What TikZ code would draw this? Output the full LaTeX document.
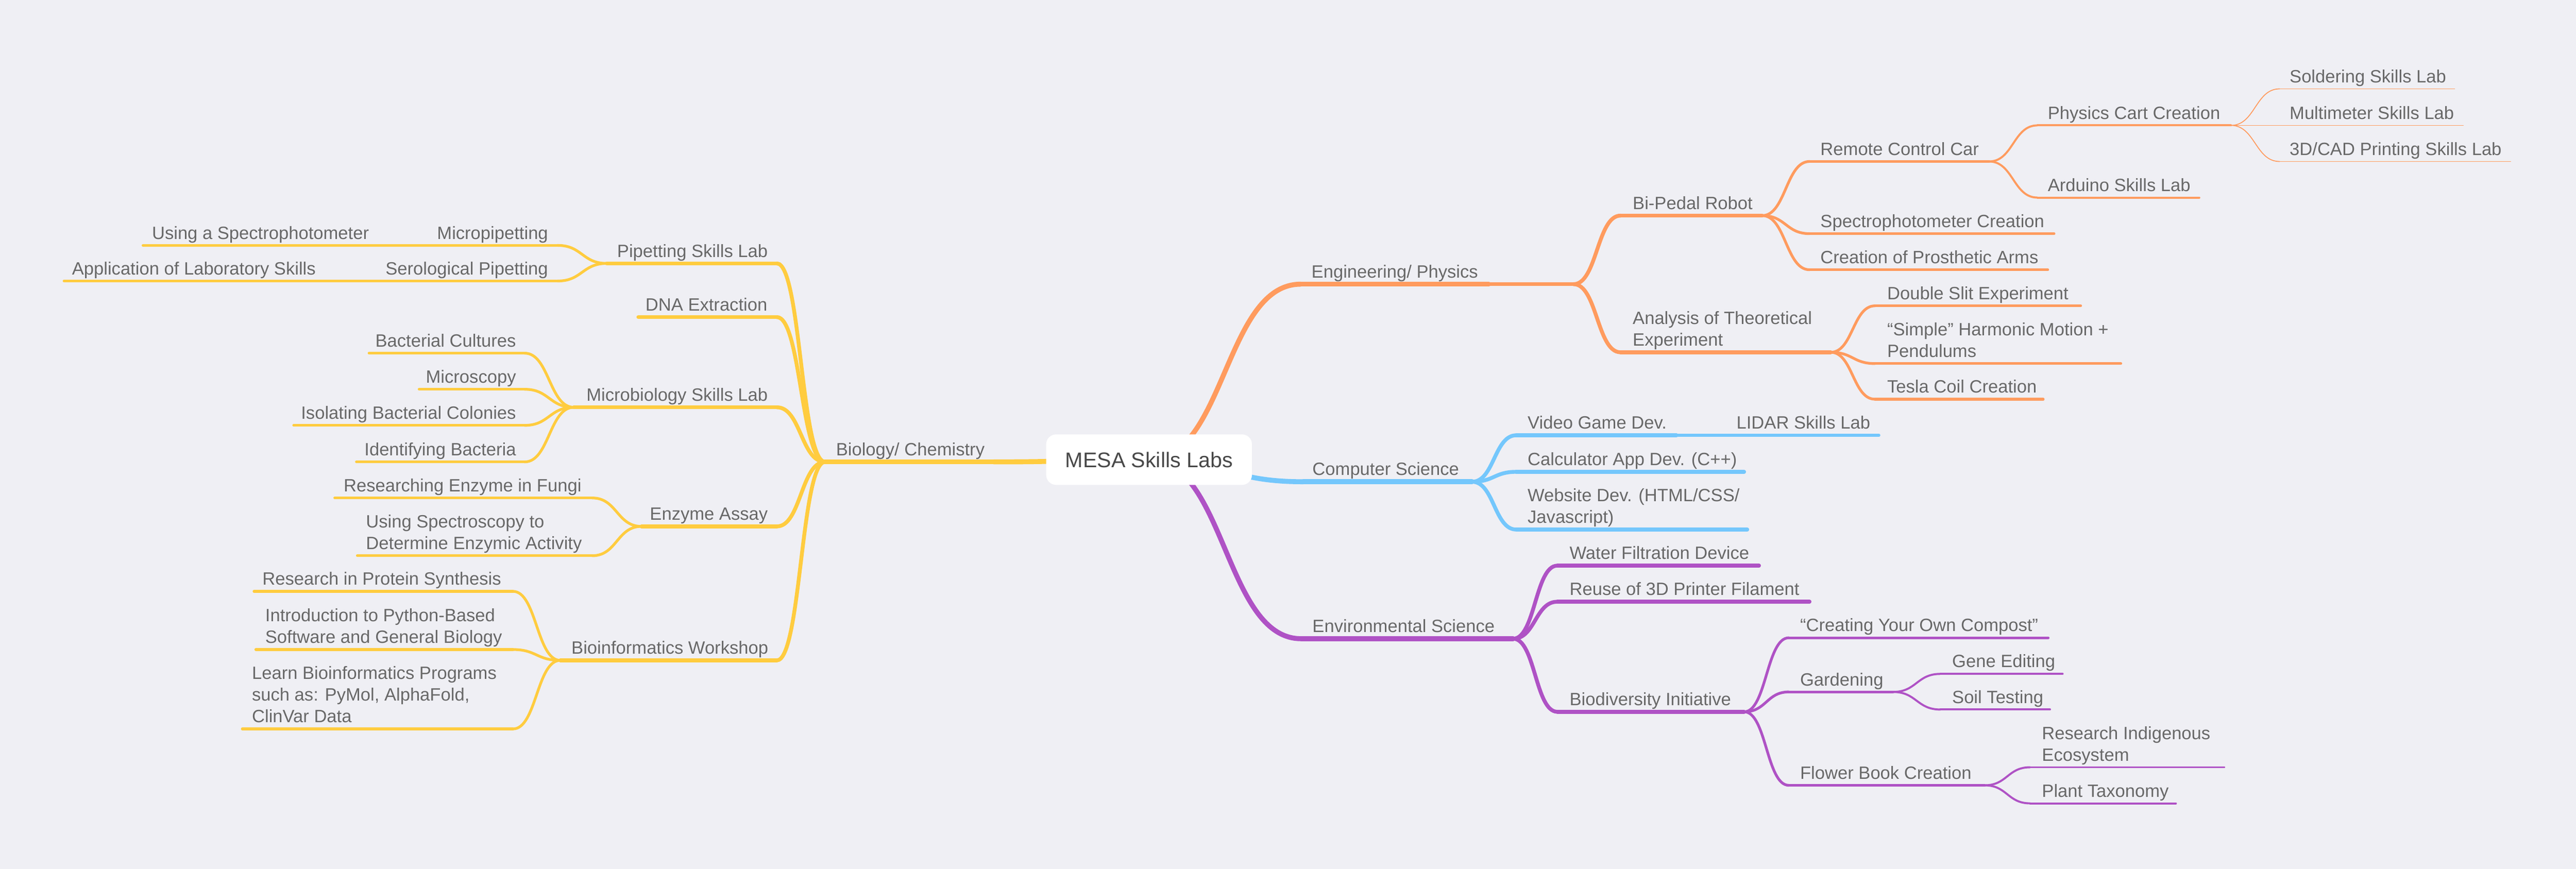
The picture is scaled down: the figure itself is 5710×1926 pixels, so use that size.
\documentclass[tikz,border=0pt]{standalone}
\usepackage{fontspec}
\setmainfont{Liberation Sans}
\usetikzlibrary{calc,backgrounds}
\definecolor{bg}{RGB}{239,239,244}
\definecolor{cy}{RGB}{255,204,63}
\definecolor{co}{RGB}{255,155,94}
\definecolor{cb}{RGB}{116,199,252}
\definecolor{cp}{RGB}{175,82,197}
\definecolor{txt}{RGB}{104,104,104}
\definecolor{roottxt}{RGB}{72,72,72}
% name, style, xstart, xend, y, anchor, anchor-x, text
\newcommand{\mmnode}[8]{%
  \coordinate (#1s) at (#3,#5);
  \coordinate (#1e) at (#4,#5);
  \begin{pgfonlayer}{background}\draw[#2,line cap=round] (#1s) -- (#1e);\end{pgfonlayer}
  \node[lbl,anchor=#6] (#1) at (#7,#5-14) {\begin{tabular}[b]{@{}l@{}}#8\end{tabular}};}
\newcommand{\mmconn}[3]{%
  \begin{pgfonlayer}{background}\draw[#1,line cap=round] (#2) .. controls ($(#2)!0.5!(#3 |- #2)$) and ($(#3)!0.5!(#2 |- #3)$) .. (#3);\end{pgfonlayer}}
\begin{document}
\begin{tikzpicture}[x=1pt,y=-1pt,
  lA/.style={line width=11pt},
  lB/.style={line width=8.5pt},
  lC/.style={line width=6pt},
  lD/.style={line width=4.5pt},
  lE/.style={line width=2pt},
  lbl/.style={inner sep=0pt,text=txt,font=\fontsize{39.5}{48}\selectfont},
  rootbox/.style={fill=white,rounded corners=22pt,minimum width=456pt,minimum height=112pt,inner sep=0pt,text=roottxt,font=\fontsize{47}{56}\selectfont}]
\useasboundingbox (0,0) rectangle (5710,1926);
\begin{pgfonlayer}{background}\fill[bg] (0,0) rectangle (5710,1926);\end{pgfonlayer}

\node[rootbox] (root) at (2547,1019) {MESA Skills Labs};

% ---------- left: Biology / Chemistry ----------
\mmnode{bio}{cy,lA}{1829}{2203}{1024}{base west}{1853}{Biology/ Chemistry}
\mmnode{pip}{cy,lB}{1345}{1722}{584}{base east}{1702}{Pipetting Skills Lab}
\mmnode{dna}{cy,lB}{1415}{1722}{703}{base east}{1701}{DNA Extraction}
\mmnode{mic}{cy,lB}{1272}{1722}{903}{base east}{1702}{Microbiology Skills Lab}
\mmnode{enz}{cy,lB}{1422}{1722}{1167}{base east}{1702}{Enzyme Assay}
\mmnode{bif}{cy,lB}{1242}{1722}{1464}{base east}{1703}{Bioinformatics Workshop}

\mmnode{mpp}{cy,lC}{951}{1236}{544}{base east}{1215}{Micropipetting}
\mmnode{ser}{cy,lC}{836}{1236}{623}{base east}{1215}{Serological Pipetting}
\mmnode{bac}{cy,lC}{818}{1163}{783}{base east}{1144}{Bacterial Cultures}
\mmnode{msc}{cy,lC}{929}{1163}{863}{base east}{1144}{Microscopy}
\mmnode{iso}{cy,lC}{651}{1163}{943}{base east}{1144}{Isolating Bacterial Colonies}
\mmnode{idb}{cy,lC}{790}{1163}{1024}{base east}{1144}{Identifying Bacteria}
\mmnode{ref}{cy,lC}{742}{1313}{1104}{base east}{1289}{Researching Enzyme in Fungi}
\mmnode{usp}{cy,lC}{792}{1313}{1232}{base east}{1290}{Using Spectroscopy to\\Determine Enzymic Activity}
\mmnode{rps}{cy,lC}{563}{1137}{1311}{base east}{1111}{Research in Protein Synthesis}
\mmnode{ipy}{cy,lC}{567}{1137}{1440}{base east}{1113}{Introduction to Python-Based\\Software and General Biology}
\mmnode{lbp}{cy,lC}{537}{1137}{1616}{base east}{1101}{Learn Bioinformatics Programs\\such as: PyMol, AlphaFold,\\ClinVar Data}

\mmnode{uas}{cy,lC}{317}{951}{544}{base east}{818}{Using a Spectrophotometer}
\mmnode{als}{cy,lC}{142}{836}{623}{base east}{700}{Application of Laboratory Skills}

% ---------- right: Engineering / Physics ----------
\mmnode{eng}{co,lA}{2883}{3300}{630}{base west}{2907}{Engineering/ Physics}
\coordinate (engX) at (3488,630);
\begin{pgfonlayer}{background}\draw[co,lB,line cap=round] (enge) -- (engX);\end{pgfonlayer}
\mmnode{bpr}{co,lB}{3592}{3906}{478}{base west}{3619}{Bi-Pedal Robot}
\mmnode{ate}{co,lB}{3592}{4058}{781}{base west}{3619}{Analysis of Theoretical\\Experiment}
\mmnode{rcc}{co,lC}{4011}{4409}{358}{base west}{4035}{Remote Control Car}
\mmnode{spc}{co,lC}{4011}{4553}{518}{base west}{4035}{Spectrophotometer Creation}
\mmnode{cpa}{co,lC}{4011}{4539}{598}{base west}{4035}{Creation of Prosthetic Arms}
\mmnode{dse}{co,lC}{4156}{4612}{678}{base west}{4183}{Double Slit Experiment}
\mmnode{shm}{co,lC}{4156}{4701}{806}{base west}{4183}{“Simple” Harmonic Motion +\\Pendulums}
\mmnode{tcc}{co,lC}{4156}{4529}{885}{base west}{4183}{Tesla Coil Creation}
\mmnode{pcc}{co,lD}{4516}{4945}{278}{base west}{4539}{Physics Cart Creation}
\mmnode{asl}{co,lD}{4516}{4875}{438}{base west}{4539}{Arduino Skills Lab}
\mmnode{ssl}{co,lE}{5053}{5441}{197}{base west}{5075}{Soldering Skills Lab}
\mmnode{msl}{co,lE}{4945}{5460}{278}{base west}{5075}{Multimeter Skills Lab}
\mmnode{cad}{co,lE}{5053}{5565}{358}{base west}{5075}{3D/CAD Printing Skills Lab}

% ---------- right: Computer Science ----------
\mmnode{csc}{cb,lA}{2889}{3263}{1068}{base west}{2909}{Computer Science}
\mmnode{vgd}{cb,lB}{3361}{3716}{965}{base west}{3386}{Video Game Dev.}
\mmnode{cal}{cb,lB}{3361}{3866}{1046}{base west}{3386}{Calculator App Dev. (C++)}
\mmnode{web}{cb,lB}{3361}{3873}{1174}{base west}{3386}{Website Dev. (HTML/CSS/\\Javascript)}
\mmnode{lid}{cb,lC}{3716}{4165}{965}{base west}{3849}{LIDAR Skills Lab}

% ---------- right: Environmental Science ----------
\mmnode{env}{cp,lA}{2884}{3354}{1416}{base west}{2909}{Environmental Science}
\mmnode{wfd}{cp,lB}{3452}{3899}{1254}{base west}{3479}{Water Filtration Device}
\mmnode{rtd}{cp,lB}{3452}{4011}{1334}{base west}{3479}{Reuse of 3D Printer Filament}
\mmnode{bdi}{cp,lB}{3452}{3866}{1578}{base west}{3479}{Biodiversity Initiative}
\mmnode{cyc}{cp,lC}{3965}{4540}{1414}{base west}{3990}{“Creating Your Own Compost”}
\mmnode{gdn}{cp,lC}{3965}{4196}{1534}{base west}{3990}{Gardening}
\mmnode{fbc}{cp,lC}{3965}{4399}{1741}{base west}{3990}{Flower Book Creation}
\mmnode{ged}{cp,lD}{4301}{4572}{1494}{base west}{4327}{Gene Editing}
\mmnode{sot}{cp,lD}{4301}{4544}{1573}{base west}{4327}{Soil Testing}
\mmnode{rie}{cp,lD}{4500}{4930}{1701}{base west}{4526}{Research Indigenous\\Ecosystem}
\mmnode{plt}{cp,lD}{4500}{4823}{1781}{base west}{4526}{Plant Taxonomy}

% ---------- connectors ----------
\mmconn{cy,lA}{root.center}{bioe}
\mmconn{co,lA}{root.center}{engs}
\mmconn{cb,lA}{root.center}{cscs}
\mmconn{cp,lA}{root.center}{envs}

\mmconn{cy,lB}{bios}{pipe}
\mmconn{cy,lB}{bios}{dnae}
\mmconn{cy,lB}{bios}{mice}
\mmconn{cy,lB}{bios}{enze}
\mmconn{cy,lB}{bios}{bife}
\mmconn{cy,lC}{pips}{mppe}
\mmconn{cy,lC}{pips}{sere}
\mmconn{cy,lC}{mics}{bace}
\mmconn{cy,lC}{mics}{msce}
\mmconn{cy,lC}{mics}{isoe}
\mmconn{cy,lC}{mics}{idbe}
\mmconn{cy,lC}{enzs}{refe}
\mmconn{cy,lC}{enzs}{uspe}
\mmconn{cy,lC}{bifs}{rpse}
\mmconn{cy,lC}{bifs}{ipye}
\mmconn{cy,lC}{bifs}{lbpe}

\mmconn{co,lB}{engX}{bprs}
\mmconn{co,lB}{engX}{ates}
\mmconn{co,lC}{bpre}{rccs}
\mmconn{co,lC}{bpre}{spcs}
\mmconn{co,lC}{bpre}{cpas}
\mmconn{co,lC}{atee}{dses}
\mmconn{co,lC}{atee}{shms}
\mmconn{co,lC}{atee}{tccs}
\mmconn{co,lD}{rcce}{pccs}
\mmconn{co,lD}{rcce}{asls}
\mmconn{co,lE}{pcce}{ssls}
\mmconn{co,lE}{pcce}{cads}

\mmconn{cb,lB}{csce}{vgds}
\mmconn{cb,lB}{csce}{cals}
\mmconn{cb,lB}{csce}{webs}

\mmconn{cp,lB}{enve}{wfds}
\mmconn{cp,lB}{enve}{rtds}
\mmconn{cp,lB}{enve}{bdis}
\mmconn{cp,lC}{bdie}{cycs}
\mmconn{cp,lC}{bdie}{gdns}
\mmconn{cp,lC}{bdie}{fbcs}
\mmconn{cp,lD}{gdne}{geds}
\mmconn{cp,lD}{gdne}{sots}
\mmconn{cp,lD}{fbce}{ries}
\mmconn{cp,lD}{fbce}{plts}
\end{tikzpicture}
\end{document}
